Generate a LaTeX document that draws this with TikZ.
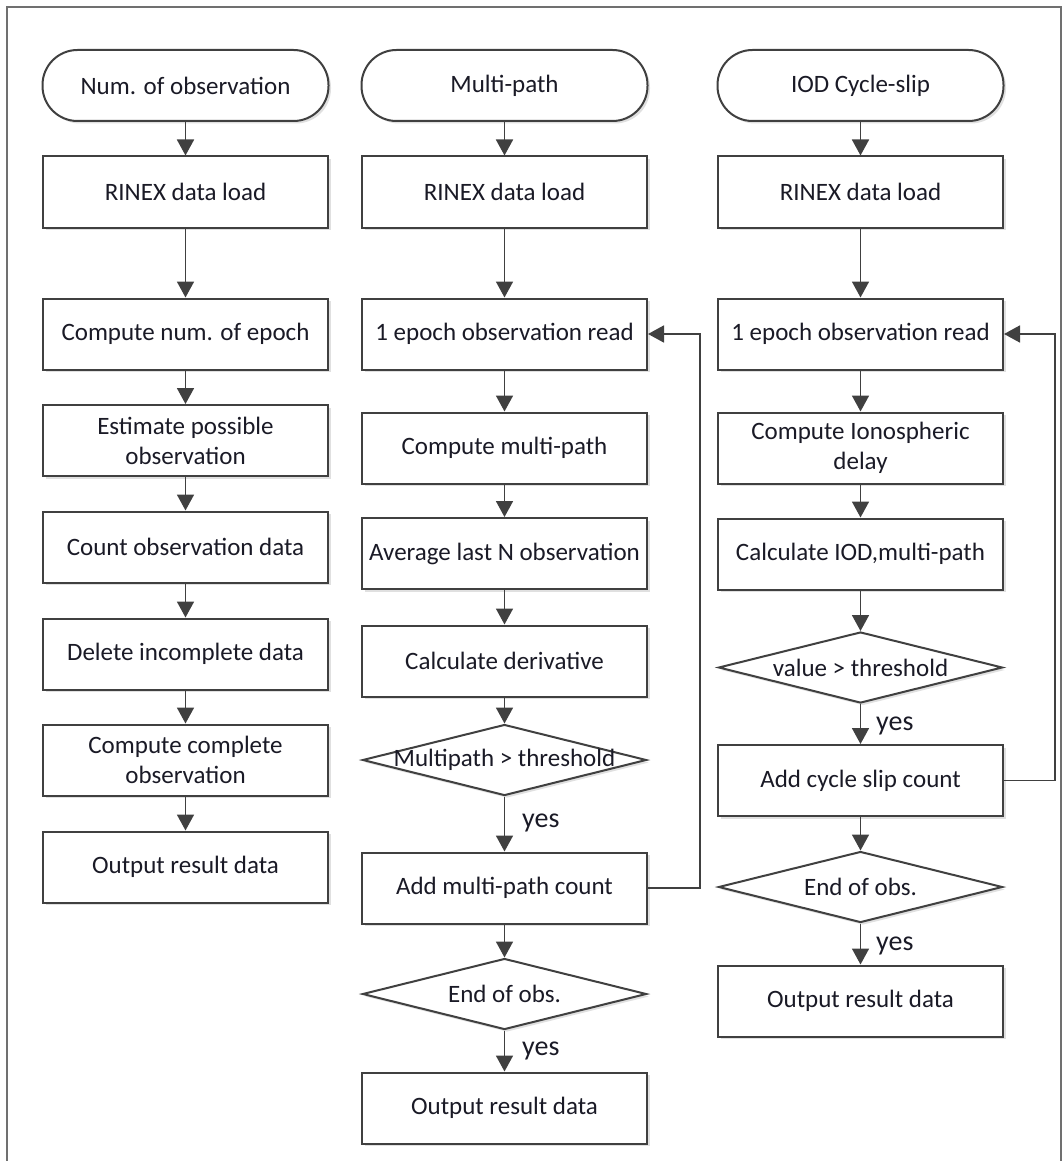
\documentclass[tikz,border=0pt]{standalone}
\usepackage{fontspec}
\setmainfont{Carlito}
\usetikzlibrary{arrows.meta,shapes.geometric,shadows}
\definecolor{linec}{HTML}{404040}
\definecolor{framec}{HTML}{707070}
\definecolor{txt}{HTML}{1A1A26}
\begin{document}
\begin{tikzpicture}[x=1pt,y=-1pt,
 base/.style={draw=linec, line width=2pt, fill=white, text=txt, font=\fontsize{25}{30}\selectfont, align=center,
   drop shadow={shadow xshift=2.5pt, shadow yshift=-2.5pt, fill=black!12, opacity=1}},
 proc/.style={base, rectangle, minimum width=285pt, minimum height=71pt, inner sep=2pt},
 term/.style={base, rectangle, rounded corners=35pt, minimum width=286pt, minimum height=71pt},
 dec/.style={base, diamond, minimum width=284pt, minimum height=71pt, inner sep=0pt},
 lbl/.style={text=txt, font=\fontsize{25}{30}\selectfont, inner sep=0pt},
 yeslbl/.style={text=txt, font=\fontsize{28}{30}\selectfont, anchor=west, inner sep=0pt},
 arr/.style={draw=linec, line width=1.8pt, -{Triangle[width=17pt,length=16pt]}},
]
\useasboundingbox (0,0) rectangle (1064,1161);
\clip (0,0) rectangle (1064,1161);
\draw[framec, line width=2.5pt] (7,7) rectangle (1061,1200);

% column 1
\node[term] (t1) at (185.5,85.5) {Num. of observation};
\node[proc] (r1) at (185.5,192) {RINEX data load};
\node[proc] (c1a) at (185.5,334) {Compute num. of epoch};
\node[proc] (c1b) at (185.5,440.5) {Estimate possible\\observation};
\node[proc] (c1c) at (185.5,547) {Count observation data};
\node[proc] (c1d) at (185.5,654) {Delete incomplete data};
\node[proc] (c1e) at (185.5,760) {Compute complete\\observation};
\node[proc] (c1f) at (185.5,867) {Output result data};

% column 2
\node[term] (t2) at (504.5,85.5) {Multi-path};
\node[proc] (r2) at (504.5,192) {RINEX data load};
\node[proc] (e2) at (504.5,334) {1 epoch observation read};
\node[proc] (m2) at (504.5,448) {Compute multi-path};
\node[proc] (a2) at (504.5,553.5) {Average last N observation};
\node[proc] (d2) at (504.5,661) {Calculate derivative};
\node[dec] (v2) at (504.5,760) {};
\node[lbl] (v2t) at (v2) {Multipath > threshold};
\node[proc] (add2) at (504.5,888) {Add multi-path count};
\node[dec] (n2) at (504.5,994) {};
\node[lbl] (n2t) at (n2) {End of obs.};
\node[proc] (o2) at (504.5,1108) {Output result data};

% column 3
\node[term] (t3) at (860.5,85.5) {IOD Cycle-slip};
\node[proc] (r3) at (860.5,192) {RINEX data load};
\node[proc] (e3) at (860.5,334) {1 epoch observation read};
\node[proc] (i3) at (860.5,448) {Compute Ionospheric\\delay};
\node[proc] (c3) at (860.5,554) {Calculate IOD,multi-path};
\node[dec] (v3) at (860.5,667.5) {};
\node[lbl] (v3t) at (v3) {value > threshold};
\node[proc] (add3) at (860.5,780.5) {Add cycle slip count};
\node[dec] (n3) at (860.5,887) {};
\node[lbl] (n3t) at (n3) {End of obs.};
\node[proc] (o3) at (860.5,1001) {Output result data};

% yes labels
\node[yeslbl] (y2a) at (522,823) {yes};
\node[yeslbl] (y2b) at (522,1051) {yes};
\node[yeslbl] (y3a) at (876,726) {yes};
\node[yeslbl] (y3b) at (876,946) {yes};

% arrows column 1
\draw[arr] (t1) -- (r1);
\draw[arr] (r1) -- (c1a);
\draw[arr] (c1a) -- (c1b);
\draw[arr] (c1b) -- (c1c);
\draw[arr] (c1c) -- (c1d);
\draw[arr] (c1d) -- (c1e);
\draw[arr] (c1e) -- (c1f);

% arrows column 2
\draw[arr] (t2) -- (r2);
\draw[arr] (r2) -- (e2);
\draw[arr] (e2) -- (m2);
\draw[arr] (m2) -- (a2);
\draw[arr] (a2) -- (d2);
\draw[arr] (d2) -- (v2);
\draw[arr] (v2) -- (add2);
\draw[arr] (add2) -- (n2);
\draw[arr] (n2) -- (o2);
\coordinate (l2) at (700,334);
\draw[arr] (add2.east) -| (l2) -- (e2.east);

% arrows column 3
\draw[arr] (t3) -- (r3);
\draw[arr] (r3) -- (e3);
\draw[arr] (e3) -- (i3);
\draw[arr] (i3) -- (c3);
\draw[arr] (c3) -- (v3);
\draw[arr] (v3) -- (add3);
\draw[arr] (add3) -- (n3);
\draw[arr] (n3) -- (o3);
\coordinate (l3) at (1055,334);
\draw[arr] (add3.east) -| (l3) -- (e3.east);
\end{tikzpicture}
\end{document}
